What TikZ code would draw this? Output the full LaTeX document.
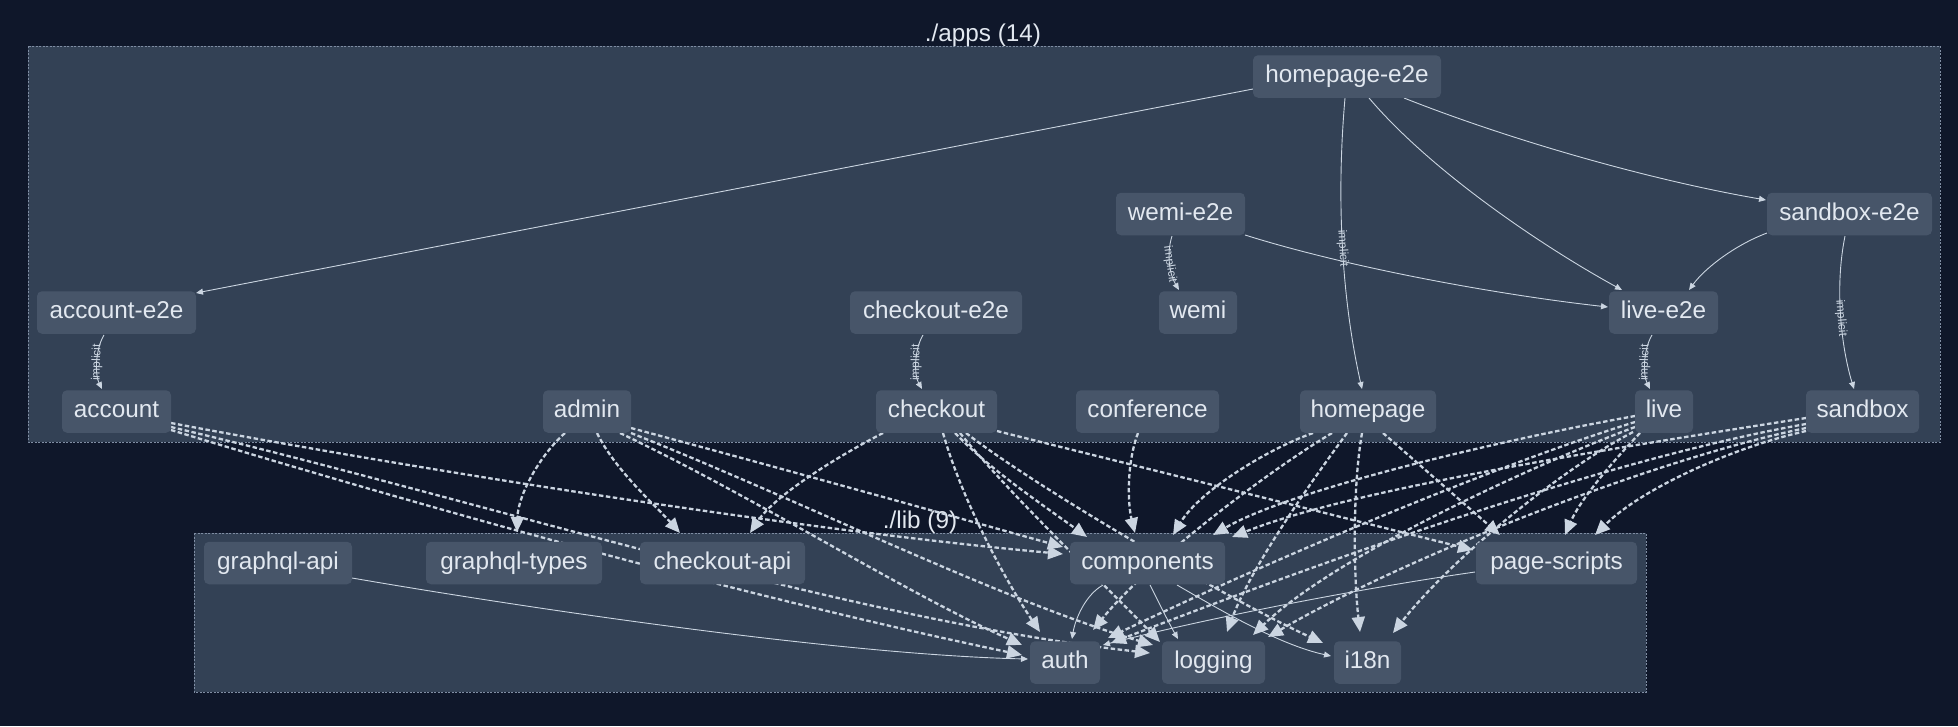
\documentclass[tikz,border=0pt]{standalone}
\usepackage{fontspec}
\setmainfont{Liberation Sans}
\usetikzlibrary{arrows.meta,calc}
\definecolor{bgc}{HTML}{0F172A}
\definecolor{clc}{HTML}{334155}
\definecolor{ndc}{HTML}{475569}
\definecolor{txc}{HTML}{E2E8F0}
\definecolor{edc}{HTML}{CBD5E1}
\definecolor{bdc}{HTML}{7F8DA3}
\pgfdeclarelayer{bglayer}
\pgfdeclarelayer{edgelayer}
\pgfsetlayers{bglayer,edgelayer,main}
\begin{document}
\begin{tikzpicture}[x=1pt,y=-1pt,
  proj/.style={fill=ndc, rounded corners=5pt, text=txc, font=\fontsize{24.3}{28}\selectfont,
    inner sep=0pt, minimum height=42.5pt, text height=17.5pt, text depth=5pt},
  dep/.style={draw=edc, line width=2.3pt, dash pattern=on 4.5pt off 2.5pt, -{Triangle[length=15pt,width=13pt]}},
  sdep/.style={draw=edc, line width=0.9pt, -{Triangle[length=7pt,width=6pt]}},
  cluster/.style={fill=clc, draw=bdc, line width=0.9pt, dash pattern=on 2pt off 1.5pt},
  ctitle/.style={text=txc, font=\fontsize{24.3}{28}\selectfont, inner sep=0pt, text height=17.5pt, text depth=5pt},
  lbl/.style={text=edc, font=\fontsize{12}{14}\selectfont, inner sep=0.5pt, sloped, pos=0.5}]
\useasboundingbox (0,0) rectangle (1958,726);
% nodes
\path
  (1347,76.5) node[proj, minimum width=188pt] (hpe2e) {homepage-e2e}
  (1180.5,214) node[proj, minimum width=129pt] (wemie2e) {wemi-e2e}
  (1849.5,214) node[proj, minimum width=165pt] (sbe2e) {sandbox-e2e}
  (116.5,312.5) node[proj, minimum width=159pt] (acce2e) {account-e2e}
  (936,312.5) node[proj, minimum width=172pt] (coe2e) {checkout-e2e}
  (1198,312.5) node[proj, minimum width=78pt] (wemi) {wemi}
  (1663.5,312.5) node[proj, minimum width=109pt] (livee2e) {live-e2e}
  (116.5,411.5) node[proj, minimum width=109pt] (account) {account}
  (587,411.5) node[proj, minimum width=88pt] (admin) {admin}
  (936.5,411.5) node[proj, minimum width=121pt] (checkout) {checkout}
  (1147.5,411.5) node[proj, minimum width=143pt] (conference) {conference}
  (1368,411.5) node[proj, minimum width=136pt] (homepage) {homepage}
  (1664,411.5) node[proj, minimum width=58pt] (live) {live}
  (1862.5,411.5) node[proj, minimum width=113pt] (sandbox) {sandbox}
  (278,563) node[proj, minimum width=148pt] (gqlapi) {graphql-api}
  (514,563) node[proj, minimum width=176pt] (gqltypes) {graphql-types}
  (722.5,563) node[proj, minimum width=165pt] (coapi) {checkout-api}
  (1147.5,563) node[proj, minimum width=155pt] (components) {components}
  (1556.5,563) node[proj, minimum width=161pt] (pagescripts) {page-scripts}
  (1065,662.5) node[proj, minimum width=70pt] (auth) {auth}
  (1213.5,662.5) node[proj, minimum width=103pt] (logging) {logging}
  (1367.5,662.5) node[proj, minimum width=67pt] (i18n) {i18n};
\begin{pgfonlayer}{bglayer}
\fill[bgc] (0,0) rectangle (1958,726);
\draw[cluster] (28,46) rectangle (1940,442);
\draw[cluster] (194,533) rectangle (1646,692);
\node[ctitle] (appstitle) at (983,35) {./apps (14)};
\node[ctitle] (libtitle) at (920,522) {./lib (9)};
\end{pgfonlayer}
\begin{pgfonlayer}{edgelayer}
% ---- solid edges inside apps
\draw[sdep] ($(hpe2e)+(-94,12.5)$) -- ($(acce2e)+(79.5,-19.5)$);
\draw[sdep] ($(hpe2e)+(-2,21.5)$) .. controls (1336,200) and (1342,300) .. node[lbl]{implicit} ($(homepage)+(-6,-22.5)$);
\draw[sdep] ($(hpe2e)+(22,21.5)$) .. controls (1430,170) and (1540,245) .. ($(livee2e)+(-41.5,-22.5)$);
\draw[sdep] ($(hpe2e)+(57,21.5)$) .. controls (1510,140) and (1650,180) .. ($(sbe2e)+(-83.5,-14)$);
\draw[sdep] ($(wemie2e)+(-8.5,22)$) .. controls (1166,255) and (1170,275) .. node[lbl]{implicit} ($(wemi)+(-19,-22.5)$);
\draw[sdep] ($(wemie2e)+(64.5,21)$) .. controls (1350,268) and (1500,295) .. ($(livee2e)+(-55.5,-5.5)$);
\draw[sdep] ($(sbe2e)+(-82.5,19)$) .. controls (1735,245) and (1705,268) .. ($(livee2e)+(25.5,-22.5)$);
\draw[sdep] ($(sbe2e)+(-4.5,22)$) .. controls (1834,290) and (1842,350) .. node[lbl]{implicit} ($(sandbox)+(-8.5,-22.5)$);
\draw[sdep] ($(livee2e)+(-11.5,22.5)$) .. controls (1643,350) and (1643,375) .. node[lbl]{implicit} ($(live)+(-14,-22.5)$);
\draw[sdep] ($(acce2e)+(-12.5,22.5)$) .. controls (95,350) and (95,375) .. node[lbl]{implicit} ($(account)+(-14.5,-22.5)$);
\draw[sdep] ($(coe2e)+(-13,22.5)$) .. controls (914,350) and (914,375) .. node[lbl]{implicit} ($(checkout)+(-14.5,-22.5)$);
% ---- solid edges inside lib
\draw[sdep] ($(gqlapi)+(74,15)$) .. controls (550,612) and (850,655) .. ($(auth)+(-37,-3.5)$);
\draw[sdep] ($(components)+(-44.5,22)$) .. controls (1085,595) and (1075,620) .. ($(auth)+(7,-23.5)$);
\draw[sdep] ($(components)+(2.5,22)$) .. controls (1160,605) and (1170,625) .. ($(logging)+(-35.5,-23.5)$);
\draw[sdep] ($(components)+(29.5,22)$) .. controls (1220,610) and (1280,645) .. ($(i18n)+(-36.5,-6.5)$);
\draw[sdep] ($(pagescripts)+(-81.5,9)$) .. controls (1350,590) and (1200,620) .. ($(auth)+(38,-17.5)$);
% ---- dashed dependencies
% account
\draw[dep] ($(account)+(54.5,11.5)$) .. controls (420,470) and (800,530) .. ($(components)+(-84.5,-9)$);
\draw[dep] ($(account)+(54.5,18.5)$) .. controls (450,515) and (760,600) .. ($(auth)+(-43,-7.5)$);
\draw[dep] ($(account)+(54.5,15.5)$) .. controls (480,500) and (850,620) .. ($(logging)+(-63.5,-9.5)$);
% admin
\draw[dep] ($(admin)+(-22,21.5)$) .. controls (540,455) and (518,495) .. ($(gqltypes)+(3,-31)$);
\draw[dep] ($(admin)+(10,21.5)$) .. controls (615,470) and (655,505) .. ($(coapi)+(-42.5,-30)$);
\draw[dep] ($(admin)+(44,16.5)$) .. controls (780,468) and (930,510) .. ($(components)+(-84.5,-16)$);
\draw[dep] ($(admin)+(33,21.5)$) .. controls (760,500) and (900,590) .. ($(auth)+(-43,-17.5)$);
\draw[dep] ($(admin)+(44,21.5)$) .. controls (800,500) and (1000,600) .. ($(logging)+(-60.5,-17.5)$);
% checkout
\draw[dep] ($(checkout)+(-53.5,21.5)$) .. controls (840,455) and (775,495) .. ($(coapi)+(27.5,-30)$);
\draw[dep] ($(checkout)+(6.5,21.5)$) .. controls (962,500) and (1005,580) .. ($(auth)+(-25,-30.5)$);
\draw[dep] ($(checkout)+(18.5,21.5)$) .. controls (990,470) and (1050,510) .. ($(components)+(-60.5,-26)$);
\draw[dep] ($(checkout)+(23.5,21.5)$) .. controls (1010,495) and (1110,590) .. ($(logging)+(-53.5,-20.5)$);
\draw[dep] ($(checkout)+(29.5,21.5)$) .. controls (1040,490) and (1230,600) .. ($(i18n)+(-44.5,-19.5)$);
\draw[dep] ($(checkout)+(60.5,19.5)$) -- ($(pagescripts)+(-83.5,-13)$);
% conference
\draw[dep] ($(conference)+(-9.5,21.5)$) .. controls (1126,465) and (1128,505) .. ($(components)+(-12.5,-30)$);
% homepage
\draw[dep] ($(homepage)+(-55,21.5)$) .. controls (1270,448) and (1200,490) .. ($(components)+(25.5,-28)$);
\draw[dep] ($(homepage)+(-36,21.5)$) .. controls (1270,470) and (1150,560) .. ($(auth)+(28,-32.5)$);
\draw[dep] ($(homepage)+(-21,21.5)$) .. controls (1305,490) and (1250,570) .. ($(logging)+(13.5,-30.5)$);
\draw[dep] ($(homepage)+(-6,21.5)$) .. controls (1352,490) and (1354,580) .. ($(i18n)+(-7.5,-30.5)$);
\draw[dep] ($(homepage)+(15,21.5)$) -- ($(pagescripts)+(-56.5,-28)$);
% live
\draw[dep] ($(live)+(-29,4.5)$) .. controls (1500,440) and (1290,490) .. ($(components)+(65.5,-28)$);
\draw[dep] ($(live)+(-29,10.5)$) .. controls (1480,470) and (1250,570) .. ($(auth)+(43,-24.5)$);
\draw[dep] ($(live)+(-29,15.5)$) .. controls (1520,470) and (1330,560) .. ($(logging)+(39.5,-27.5)$);
\draw[dep] ($(live)+(-24,21.5)$) .. controls (1612,462) and (1580,500) .. ($(pagescripts)+(8.5,-28)$);
\draw[dep] ($(live)+(-31,20.5)$) .. controls (1560,470) and (1450,560) .. ($(i18n)+(25.5,-29.5)$);
% sandbox
\draw[dep] ($(sandbox)+(-56.5,6.5)$) .. controls (1600,450) and (1350,490) .. ($(components)+(84.5,-26)$);
\draw[dep] ($(sandbox)+(-56.5,12.5)$) .. controls (1600,460) and (1300,570) .. ($(auth)+(46,-19.5)$);
\draw[dep] ($(sandbox)+(-56.5,16.5)$) .. controls (1650,460) and (1400,560) .. ($(logging)+(54.5,-25.5)$);
\draw[dep] ($(sandbox)+(-56.5,19.5)$) .. controls (1730,448) and (1640,490) .. ($(pagescripts)+(38.5,-28)$);
\end{pgfonlayer}
\end{tikzpicture}
\end{document}
